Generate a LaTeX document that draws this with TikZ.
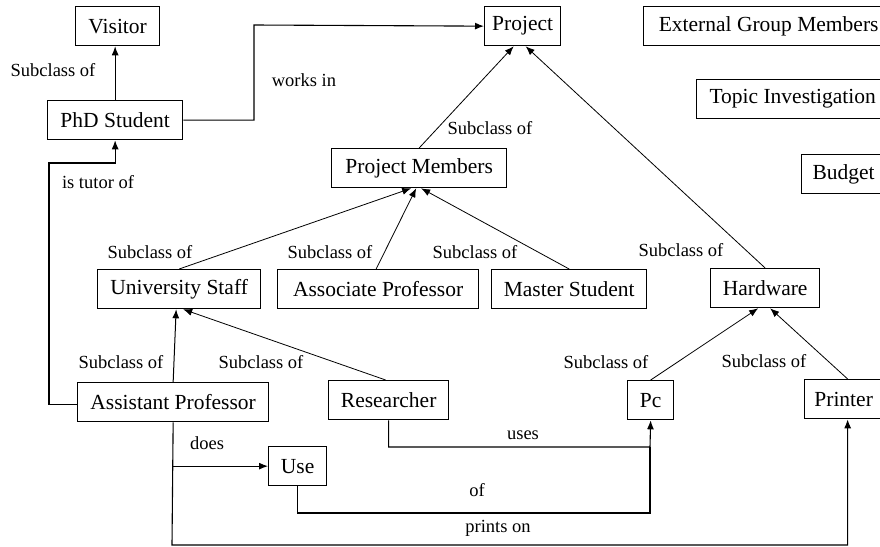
\documentclass[tikz,border=0pt]{standalone}
\usepackage{fontspec}
\setmainfont{Liberation Serif}
\usetikzlibrary{arrows.meta}
\tikzset{
	box/.style={draw, line width=1.3pt, anchor=north west, minimum height=39pt, inner sep=0pt, font=\fontsize{21.5}{24}\selectfont},
	lbl/.style={font=\fontsize{18.5}{21}\selectfont, inner sep=0pt},
	arr/.style={line width=1pt, -{Latex[length=9pt,width=7pt]}},
	link/.style={line width=1.1pt}
}

\begin{document}
\begin{tikzpicture}[x=1pt, y=-1pt]
			%%%%% START %%%%%
			\useasboundingbox (0, 0) rectangle (880, 546);
			
			\node[box, minimum width=84pt] (visitor) at (75, 6) {Visitor};
			\node[box, minimum width=135pt] (phd) at (47, 100) {PhD Student};
			\node[box, minimum width=76pt] (project) at (484, 6) {Project};
			\node[box, minimum width=250pt] (extgroup) at (643, 6) {External Group Members};
			\node[box, minimum width=192pt] (topic) at (696, 79) {Topic Investigation};
			\node[box, minimum width=84pt] (budget) at (801, 154) {Budget};
			
			\node[box, minimum width=175pt] (members) at (331, 148) {Project Members};
			\node[box, minimum width=163pt] (staff) at (97, 269) {University Staff};
			\node[box, minimum width=201pt] (assoc) at (277, 269) {Associate Professor};
			\node[box, minimum width=155pt] (master) at (491, 269) {Master Student};
			\node[box, minimum width=109pt] (hardware) at (710, 268) {Hardware};
			
			\node[box, minimum width=191pt] (assist) at (77, 382) {Assistant Professor};
			\node[box, minimum width=120pt] (researcher) at (328, 380) {Researcher};
			\node[box, minimum width=46pt] (pc) at (627, 380) {Pc};
			\node[box, minimum width=78pt] (printer) at (804, 379) {Printer};
			\node[box, minimum width=58pt] (use) at (268, 446) {Use};
			
			\coordinate (worksbend) at (254, 25);
			\coordinate (tutorbend) at (49, 163);
			\coordinate (usesbend) at (650, 447);
			\coordinate (ofbend) at (650, 513);
			\coordinate (printsbend) at (172, 545);
			
			% subclass links
			\draw[arr] (phd.north) -- (phd.north |- visitor.south);
			\draw[arr, line width=0.8pt] (members.north) -- ([xshift=-9pt]project.south);
			\draw[arr, line width=0.8pt] (hardware.north) -- ([xshift=3pt]project.south);
			\draw[arr, line width=0.8pt] (staff.north) -- ([xshift=-8pt]members.south);
			\draw[arr, line width=0.8pt] ([xshift=-2pt]assoc.north) -- ([xshift=-3pt]members.south);
			\draw[arr, line width=0.8pt] (master.north) -- ([xshift=2pt]members.south);
			\draw[arr] (assist.north) -- ([xshift=-3pt]staff.south);
			\draw[arr, line width=0.8pt] ([xshift=-3pt]researcher.north) -- ([xshift=4pt]staff.south);
			\draw[arr, line width=0.8pt] (pc.north) -- ([xshift=-7pt]hardware.south);
			\draw[arr, line width=0.8pt] ([xshift=4pt]printer.north) -- ([xshift=5pt]hardware.south);
			
			% relations
			\draw[arr, link] (phd.east) -| (worksbend) -- (project.west);
			\draw[arr, link] ([yshift=-2pt]assist.west) -| (tutorbend) -| (phd.south);
			\draw[arr, link] (assist.south) -- (printsbend) -| ([xshift=4pt]printer.south);
			\draw[arr, link] (assist.south |- use.west) -- (use.west);
			\draw[arr, link] (researcher.south) |- (usesbend) -- (pc.south);
			\draw[link] (use.south) |- (ofbend) -- (usesbend);
			
			\node[lbl] (l1) at (53, 70) {Subclass of};
			\node[lbl] (l2) at (304, 80) {works in};
			\node[lbl] (l3) at (98, 182) {is tutor of};
			\node[lbl] (l4) at (490, 128) {Subclass of};
			\node[lbl] (l5) at (150, 252) {Subclass of};
			\node[lbl] (l6) at (330, 252) {Subclass of};
			\node[lbl] (l7) at (475, 252) {Subclass of};
			\node[lbl] (l8) at (681, 250) {Subclass of};
			\node[lbl] (l9) at (121, 362) {Subclass of};
			\node[lbl] (l10) at (261, 362) {Subclass of};
			\node[lbl] (l11) at (606, 362) {Subclass of};
			\node[lbl] (l12) at (764, 361) {Subclass of};
			\node[lbl] (l13) at (207, 443) {does};
			\node[lbl] (l14) at (523, 435) {uses};
			\node[lbl] (l15) at (477, 490) {of};
			\node[lbl] (l16) at (498, 528) {prints on};
			
			%%%%% END %%%%%
\end{tikzpicture}
\end{document}
